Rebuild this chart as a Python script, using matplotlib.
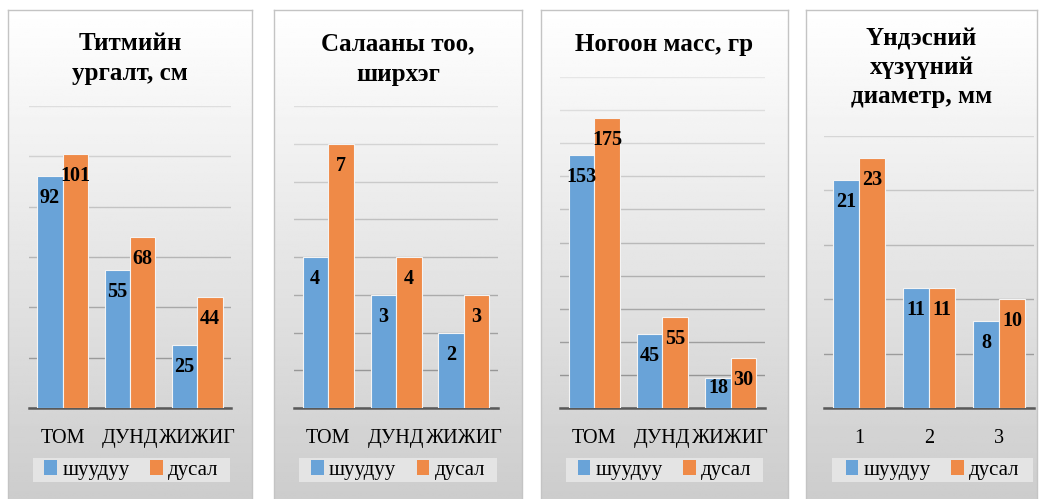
import numpy as np
import matplotlib
matplotlib.use("Agg")
import matplotlib.pyplot as plt
from matplotlib.patches import Rectangle

FONT = 'Liberation Serif'
plt.rcParams['font.family'] = FONT

# data, one entry per panel
titles = ["Титмийн\nургалт, см", "Салааны тоо,\nширхэг", "Ногоон масс, гр", "Үндэсний\nхүзүүний\nдиаметр, мм"]
categories = [["ТОМ", "ДУНД", "ЖИЖИГ"], ["ТОМ", "ДУНД", "ЖИЖИГ"], ["ТОМ", "ДУНД", "ЖИЖИГ"], ["1", "2", "3"]]
shuuduu = [[92, 55, 25], [4, 3, 2], [153, 45, 18], [21, 11, 8]]
dusal = [[101, 68, 44], [7, 4, 3], [175, 55, 30], [23, 11, 10]]
y_max = [120, 8, 200, 25]
y_step = [20, 1, 20, 5]
series_names = ["шуудуу", "дусал"]

W, H = 1040, 499
blue = '#69a3d8'
orange = '#ef8a47'

# layout in pixels (x0, x1) ; plot area (x0, x1, top) ; title baselines ; legend box
panel_x = [(8, 252), (274, 522), (541, 788), (806, 1037)]
plot_box = [(29, 231, 106), (294, 498, 106), (560, 765, 77), (824, 1034, 136)]
title_y = [[50, 80], [50, 81], [51], [45, 74, 103]]
legend_x = [(33, 230), (299, 497), (566, 763), (832, 1033)]
base_y = 408
panel_top = 10


def fx(px):
    return px / W


def fy(py):
    return 1 - py / H


def main():
    fig = plt.figure(figsize=(W / 100, H / 100), dpi=100)

    grad = np.linspace(1.0, 0.80, 256).reshape(-1, 1)

    for i in range(4):
        # panel background with gradient
        px0, px1 = panel_x[i]
        bg = fig.add_axes([fx(px0), fy(H + 5), fx(px1 - px0), (H + 5 - panel_top) / H])
        bg.imshow(grad, cmap='gray', vmin=0, vmax=1, aspect='auto', extent=(0, 1, 0, 1))
        bg.set_xticks([])
        bg.set_yticks([])
        for s in bg.spines.values():
            s.set_color('#c4c4c4')
            s.set_linewidth(1.0)

        # legend box
        lx0, lx1 = legend_x[i]
        fig.patches.append(Rectangle((fx(lx0), fy(482)), fx(lx1 - lx0), 24 / H,
                                     transform=fig.transFigure, facecolor='#e4e4e4',
                                     edgecolor='none', zorder=1))

        # title lines
        cx = (px0 + px1) / 2
        for line, ty in zip(titles[i].split("\n"), title_y[i]):
            fig.text(fx(cx), fy(ty), line, ha='center', va='baseline', family=FONT,
                     fontsize=18, fontweight='bold', color='black')

        # plot area
        x0, x1, top = plot_box[i]
        ax = fig.add_axes([fx(x0), fy(base_y), fx(x1 - x0), (base_y - top) / H])
        ax.set_facecolor('none')
        ax.set_zorder(3)

        x = np.arange(len(categories[i]))
        w = 0.375
        b1 = ax.bar(x - w / 2, shuuduu[i], w, color=blue, edgecolor='#f4f4f4',
                    linewidth=0.8, label=series_names[0], zorder=3)
        b2 = ax.bar(x + w / 2, dusal[i], w, color=orange, edgecolor='#f4f4f4',
                    linewidth=0.8, label=series_names[1], zorder=3)

        ax.set_xlim(-0.5, len(x) - 0.5)
        ax.set_ylim(0, y_max[i])
        ax.set_yticks(np.arange(0, y_max[i] + y_step[i] / 2, y_step[i]))
        ax.set_yticklabels([])
        ax.tick_params(axis='y', length=0)
        ax.yaxis.grid(True, linewidth=1.0)
        ax.set_axisbelow(True)
        ax.set_xticks(x)
        ax.set_xticklabels(categories[i], fontsize=14.5, family=FONT)
        ax.tick_params(axis='x', length=0, pad=15)

        for s in ['top', 'left', 'right']:
            ax.spines[s].set_visible(False)
        ax.spines['bottom'].set_color('#595959')
        ax.spines['bottom'].set_linewidth(1.8)

        # gridlines darker towards the bottom like the original
        px_per_unit = (base_y - top) / y_max[i]
        for v, gl in zip(ax.get_yticks(), ax.get_ygridlines()):
            py = base_y - v * px_per_unit
            g = 0.91 - (py - 70) / (base_y - 70) * 0.36
            gl.set_color((g, g, g))

        # value labels inside end of bars
        for bars, vals in [(b1, shuuduu[i]), (b2, dusal[i])]:
            for rect, v in zip(bars, vals):
                bar_px = v * px_per_unit
                off = min(22, bar_px - 20)
                ax.text(rect.get_x() + rect.get_width() / 2, v - off / px_per_unit, str(v),
                        ha='center', va='center', fontsize=14.5, fontweight='bold',
                        family=FONT, color='black', zorder=5)

        lcx = (lx0 + lx1) / 2
        leg = ax.legend(handles=[b1, b2], loc='center', bbox_to_anchor=(fx(lcx), fy(470)),
                        bbox_transform=fig.transFigure, ncol=2, frameon=False,
                        prop={'family': FONT, 'size': 15},
                        handlelength=0.6, handleheight=0.75, handletextpad=0.25,
                        columnspacing=1.0, borderpad=0.1)
        for h in leg.legend_handles:
            h.set_edgecolor('none')

    fig.savefig("out.png", dpi=100, facecolor='white')


if __name__ == '__main__':
    main()
